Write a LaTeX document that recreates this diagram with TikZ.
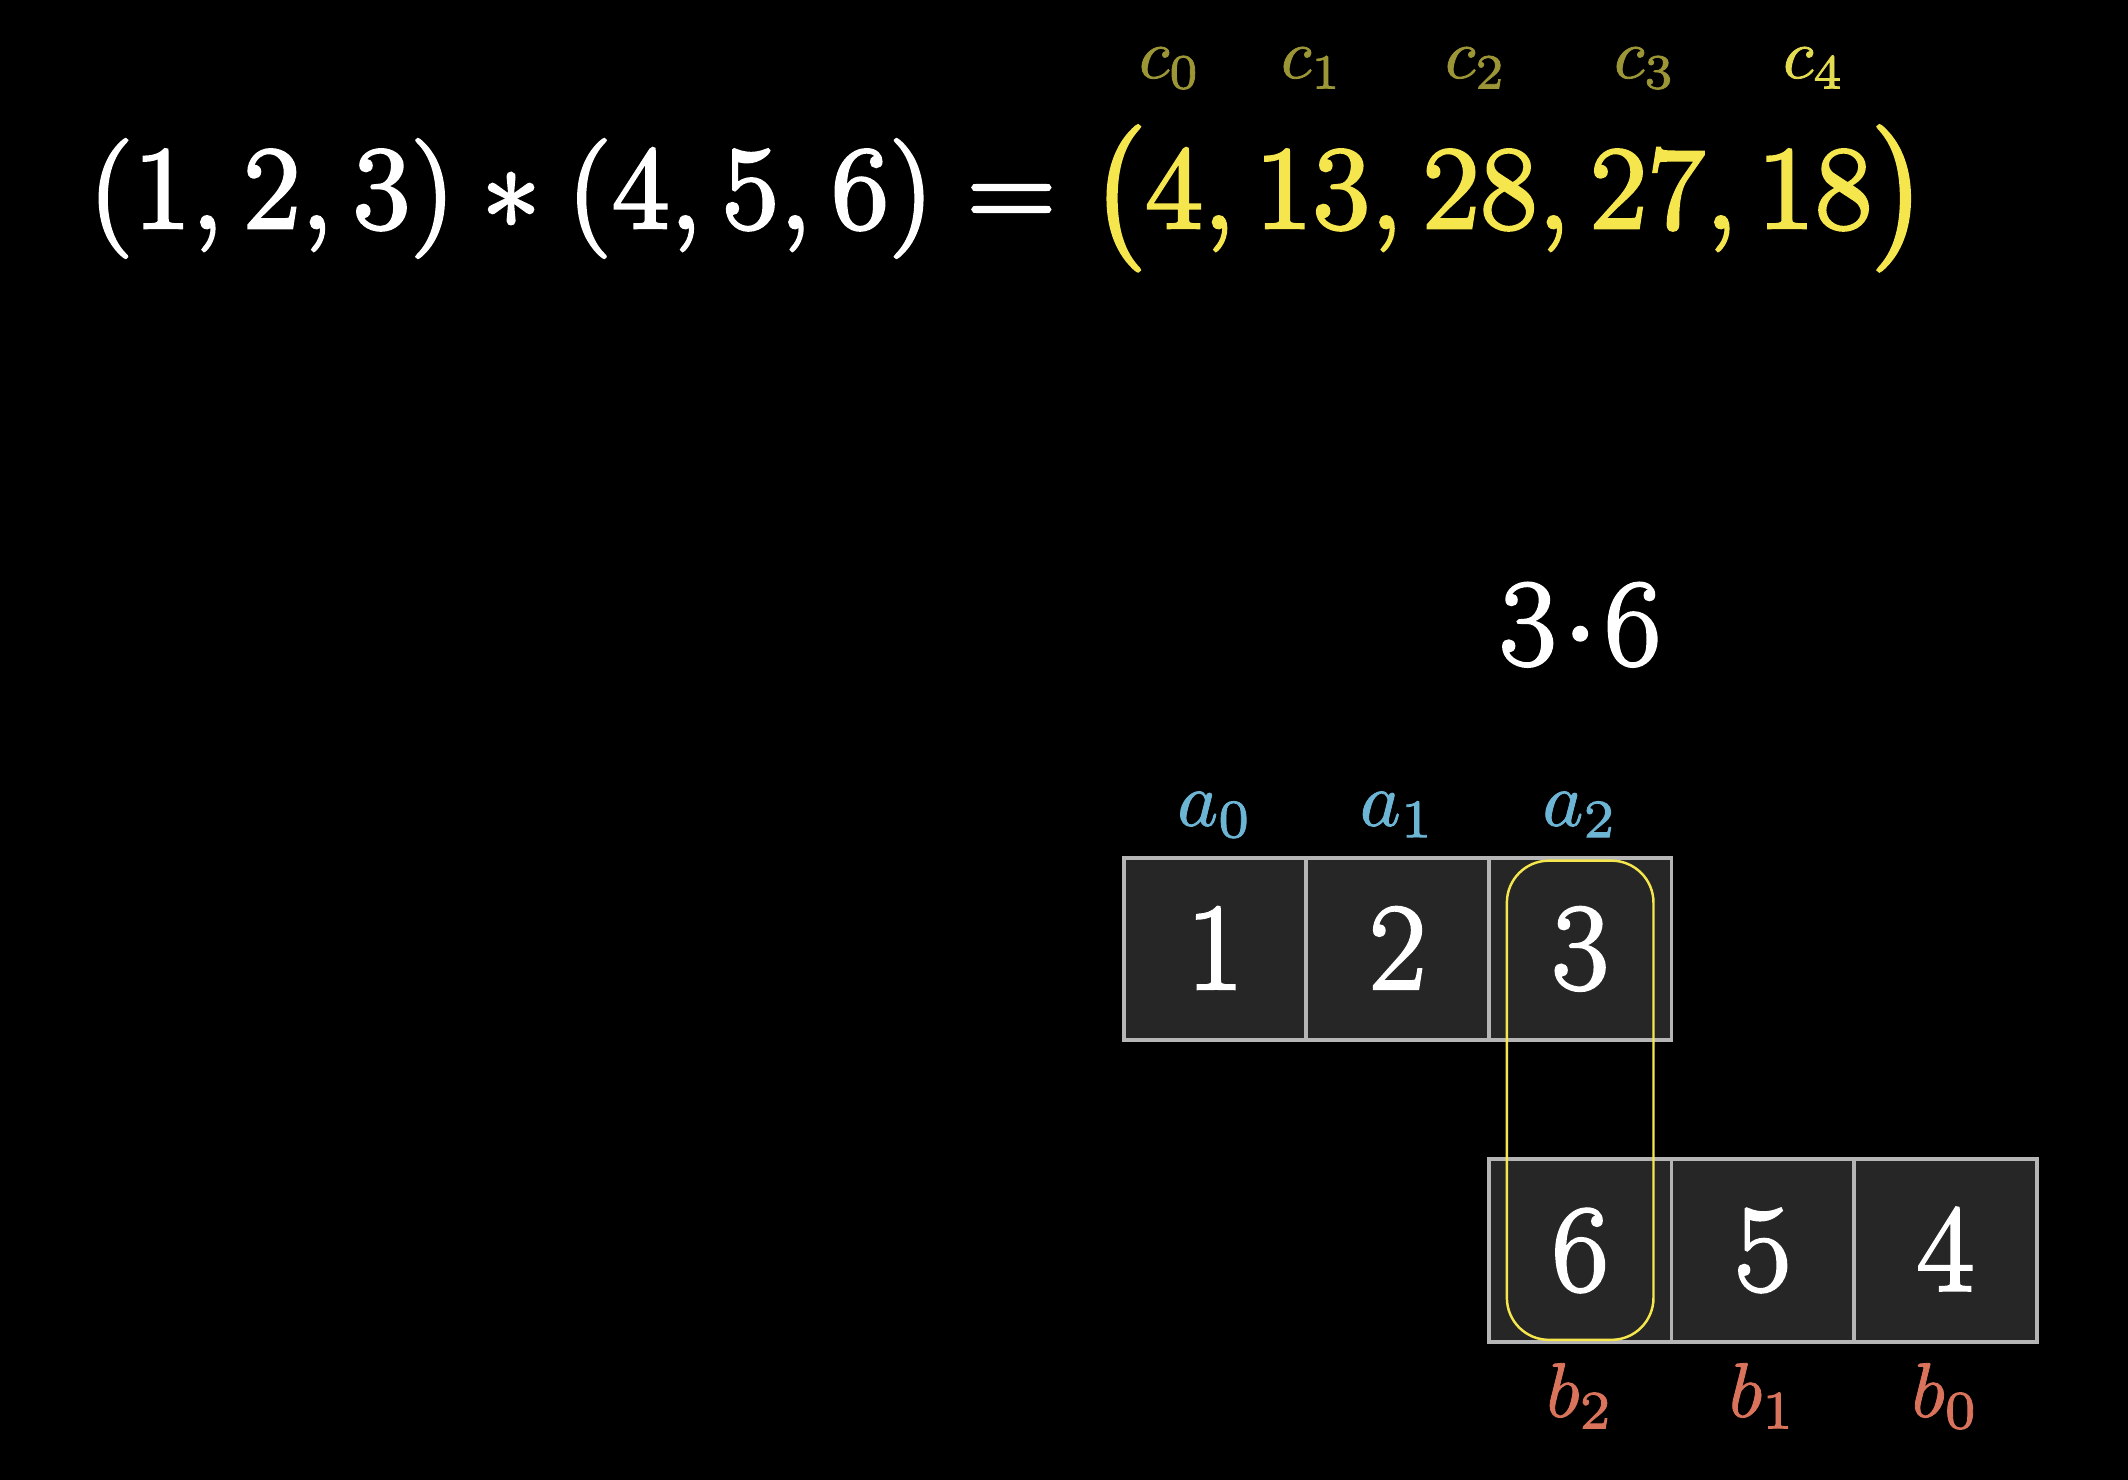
\RequirePackage{fix-cm}
\documentclass[tikz,border=0pt]{standalone}
\usepackage{amsmath}
\usetikzlibrary{positioning}

\definecolor{cellfill}{HTML}{262626}
\definecolor{cellline}{HTML}{B5B5B5}
\definecolor{sumyellow}{HTML}{F5E64E}
\definecolor{dimyellow}{HTML}{9C9636}
\definecolor{lastyellow}{HTML}{E3DB50}
\definecolor{ablue}{HTML}{6DB5D5}
\definecolor{bred}{HTML}{D9735B}

% glyphs filled and stroked, a little heavier
\newcommand{\heavy}[2][0.4]{\special{pdf:literal direct 2 Tr #1 w}#2\special{pdf:literal direct 0 Tr}}

\tikzset{
	cell/.style={draw=cellline, fill=cellfill, line width=0.55pt,
		minimum size=0.913cm, inner sep=0pt, outer sep=0pt, text=white,
		font=\fontsize{17.6}{21}\selectfont},
	idx/.style={inner sep=0pt, font=\fontsize{11}{13}\selectfont},
}

\begin{document}
\begin{tikzpicture}[
	x=1cm,
	y=1cm
	]
	% --- background, fixes the frame ---
	\fill[black] (0,0) rectangle (10.64,7.4);

	% --- top line: the full convolution ---
	\node[anchor=base west, inner sep=0pt, text=white,
		font=\fontsize{16.8}{20.2}\selectfont] (eq) at (0.435,6.26)
		{\heavy{$(1,2,3)*(4,5,6)=\color{sumyellow}\bigl(4,13,28,27,18\bigr)$}};
	\foreach \x/\k/\col in {5.85/0/dimyellow, 6.56/1/dimyellow, 7.38/2/dimyellow,
			8.225/3/dimyellow, 9.07/4/lastyellow}
		\node[idx, anchor=base, text=\col, font=\fontsize{10}{12}\selectfont]
			(c\k) at (\x,7.01) {\heavy[0.12]{$c_{\k}$}};

	% --- a on top ---
	\foreach \v [count=\i from 0] in {1,2,3} {
		\node[cell] (a\i) at (6.075+0.913*\i,2.655) {\heavy{$\v$}};
		\node[idx, text=ablue, above=0.16cm of a\i, anchor=base] (la\i) {\heavy[0.12]{$a_{\i}$}};
	}

	% --- b reversed, slid under a ---
	\node[cell, below=0.595cm of a2] (b2) {\heavy{$6$}};
	\node[cell, right=0pt of b2] (b1) {\heavy{$5$}};
	\node[cell, right=0pt of b1] (b0) {\heavy{$4$}};
	\foreach \k in {2,1,0}
		\node[idx, text=bred, below=0.375cm of b\k, anchor=base] (lb\k) {\heavy[0.12]{$b_{\k}$}};

	% --- overlapping pair and its product ---
	\draw[sumyellow, line width=0.35pt, rounded corners=0.21cm]
		([xshift=0.09cm,yshift=-0.015cm]a2.north west) rectangle
		([xshift=-0.09cm,yshift=0.01cm]b2.south east);
	\node[text=white, inner sep=0pt, font=\fontsize{17.6}{21}\selectfont,
		above=0.965cm of a2, anchor=base] (prod) {\heavy{$3\!\cdot\!6$}};
\end{tikzpicture}
\end{document}
